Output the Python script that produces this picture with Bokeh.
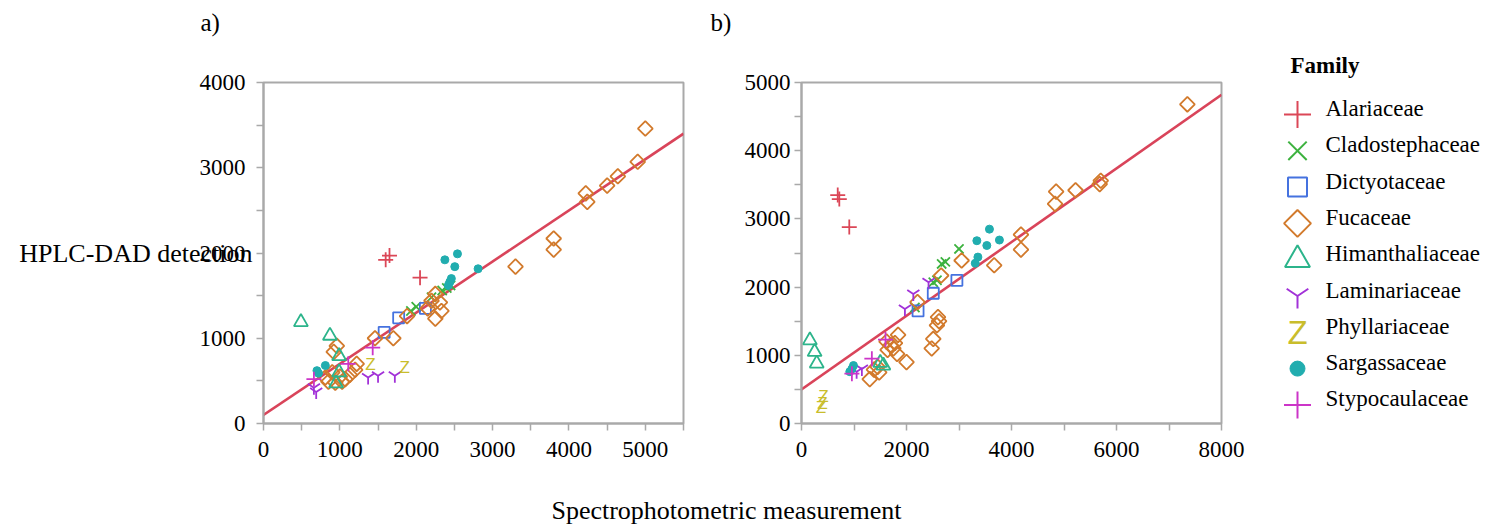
import math
from bokeh.plotting import figure
from bokeh.models import Range1d, FixedTicker, Label, Title
from bokeh.layouts import row, column
from bokeh.embed import file_html
from bokeh.resources import INLINE
from bokeh.core.properties import value

# ---------------- data ----------------
families = ["Alariaceae", "Cladostephaceae", "Dictyotaceae", "Fucaceae",
            "Himanthaliaceae", "Laminariaceae", "Phyllariaceae", "Sargassaceae",
            "Stypocaulaceae"]
colors = ["#db4757", "#3db23f", "#4572df", "#d27a2c", "#2cb48b",
          "#a232d8", "#c9bd2c", "#21adaf", "#cc35c8"]
markers = ["cross", "x", "square", "diamond", "triangle", "y", "Z", "circle", "cross"]
panel_tags = ["a)", "b)"]

# panel a)
a_alariaceae_x = [1600, 1650, 2050]
a_alariaceae_y = [1920, 1970, 1710]
a_cladostephaceae_x = [1930, 2000, 2200, 2340, 2400, 2450]
a_cladostephaceae_y = [1320, 1370, 1480, 1560, 1590, 1620]
a_dictyotaceae_x = [1580, 1770, 2120]
a_dictyotaceae_y = [1070, 1240, 1350]
a_fucaceae_x = [5000, 4900, 4640, 4500, 4220, 4240, 3800, 3800, 3300,
                2250, 2310, 2330, 2250, 2200, 2150, 1880, 1700, 1460,
                960, 920, 810, 850, 940, 1000, 1030, 1070, 1130, 1200, 1220, 900]
a_fucaceae_y = [3460, 3070, 2900, 2790, 2700, 2600, 2170, 2040, 1840,
                1520, 1420, 1320, 1230, 1440, 1350, 1260, 1000, 1000,
                910, 840, 540, 490, 480, 550, 490, 520, 570, 630, 700, 600]
a_himanthaliaceae_x = [490, 870, 990, 950, 990]
a_himanthaliaceae_y = [1190, 1030, 790, 470, 600]
a_laminariaceae_x = [1370, 1500, 1720, 660, 690]
a_laminariaceae_y = [540, 560, 560, 420, 370]
a_phyllariaceae_x = [1400, 1850]
a_phyllariaceae_y = [690, 660]
a_sargassaceae_x = [2375, 2540, 2505, 2810, 2460, 2440, 2420, 700, 810, 720]
a_sargassaceae_y = [1920, 1990, 1840, 1815, 1700, 1660, 1620, 620, 680, 590]
a_stypocaulaceae_x = [660, 1110, 1430]
a_stypocaulaceae_y = [520, 700, 890]
a_fit = [100, 0.6]  # intercept, slope

# panel b)
b_alariaceae_x = [690, 720, 910]
b_alariaceae_y = [3350, 3290, 2880]
b_cladostephaceae_x = [3000, 2740, 2670, 2580, 2510, 2160]
b_cladostephaceae_y = [2560, 2370, 2340, 2100, 2070, 1700]
b_dictyotaceae_x = [2960, 2510, 2220]
b_dictyotaceae_y = [2100, 1910, 1650]
b_fucaceae_x = [7350, 5700, 5680, 5220, 4850, 4830, 4180, 4180, 3670, 3050,
                2660, 2210, 2600, 2620, 2580, 2510, 2480, 1840, 1620, 1750,
                1820, 2000, 1700, 1640, 1780, 1300, 1480, 1380, 1450]
b_fucaceae_y = [4680, 3560, 3510, 3420, 3400, 3220, 2770, 2550, 2320, 2390,
                2170, 1780, 1560, 1500, 1440, 1240, 1100, 1300, 1200, 1100,
                1020, 900, 1150, 1080, 1180, 650, 750, 790, 830]
b_himanthaliaceae_x = [160, 250, 290, 1500, 1560]
b_himanthaliaceae_y = [1220, 1050, 880, 890, 850]
b_laminariaceae_x = [2130, 1970, 2420, 1150, 1050]
b_laminariaceae_y = [1900, 1680, 2070, 800, 760]
b_phyllariaceae_x = [420, 400, 370]
b_phyllariaceae_y = [390, 300, 240]
b_sargassaceae_x = [3580, 3340, 3530, 3770, 3360, 3310, 960, 990, 920]
b_sargassaceae_y = [2850, 2680, 2610, 2690, 2440, 2350, 800, 850, 760]
b_stypocaulaceae_x = [960, 1340, 1600]
b_stypocaulaceae_y = [730, 950, 1230]
b_fit = [500, 0.54]

a_xticks = [0, 1000, 2000, 3000, 4000, 5000]
a_xminor = [500, 1500, 2500, 3500, 4500, 5500]
a_yticks = [0, 1000, 2000, 3000, 4000]
a_yminor = [500, 1500, 2500, 3500]
b_xticks = [0, 2000, 4000, 6000, 8000]
b_xminor = [1000, 3000, 5000, 7000]
b_yticks = [0, 1000, 2000, 3000, 4000, 5000]
b_yminor = [500, 1500, 2500, 3500, 4500]

a_data = [(a_alariaceae_x, a_alariaceae_y), (a_cladostephaceae_x, a_cladostephaceae_y),
          (a_dictyotaceae_x, a_dictyotaceae_y), (a_fucaceae_x, a_fucaceae_y),
          (a_himanthaliaceae_x, a_himanthaliaceae_y), (a_laminariaceae_x, a_laminariaceae_y),
          (a_phyllariaceae_x, a_phyllariaceae_y), (a_sargassaceae_x, a_sargassaceae_y),
          (a_stypocaulaceae_x, a_stypocaulaceae_y)]
b_data = [(b_alariaceae_x, b_alariaceae_y), (b_cladostephaceae_x, b_cladostephaceae_y),
          (b_dictyotaceae_x, b_dictyotaceae_y), (b_fucaceae_x, b_fucaceae_y),
          (b_himanthaliaceae_x, b_himanthaliaceae_y), (b_laminariaceae_x, b_laminariaceae_y),
          (b_phyllariaceae_x, b_phyllariaceae_y), (b_sargassaceae_x, b_sargassaceae_y),
          (b_stypocaulaceae_x, b_stypocaulaceae_y)]

SERIF = "Liberation Serif"
AXIS_COL = "#a9a9a9"
FIT_COL = "#d9445a"
TOP_H = 40          # strip holding the panel tags
FRAME_TOP = 82      # page y of the plot frames
FRAME_H = 341


def draw_marker(p, kind, xs, ys, color):
    lw = 1.8
    if kind == "Z":
        p.text(x=xs, y=ys, text=["Z"] * len(xs), text_color=color,
               text_font=value("Liberation Sans"), text_font_size="17px",
               text_align="center", text_baseline="middle")
    elif kind == "diamond":
        p.scatter(xs, ys, marker="square", size=10.5, angle=math.pi / 4,
                  fill_color=None, line_color=color, line_width=lw)
    elif kind == "circle":
        p.scatter(xs, ys, marker="circle", size=8, fill_color=color,
                  line_color=color, line_width=1)
    else:
        size = {"cross": 15, "x": 13, "square": 11, "triangle": 14, "y": 14}[kind]
        p.scatter(xs, ys, marker=kind, size=size, fill_color=None,
                  line_color=color, line_width=lw)


def make_panel(data, fit, xr, yr, xt, xm, yt, ym, left, right, ystand):
    p = figure(frame_width=420, frame_height=FRAME_H, x_range=Range1d(*xr),
               y_range=Range1d(*yr), output_backend="svg", toolbar_location=None,
               min_border_left=left, min_border_right=right,
               min_border_top=FRAME_TOP - TOP_H, min_border_bottom=55)
    p.grid.visible = False
    p.outline_line_color = AXIS_COL
    p.outline_line_width = 2
    p.background_fill_color = "white"
    p.border_fill_color = "white"
    p.xaxis.ticker = FixedTicker(ticks=xt, minor_ticks=xm)
    p.yaxis.ticker = FixedTicker(ticks=yt, minor_ticks=ym)
    for ax in (p.xaxis, p.yaxis):
        ax.axis_line_color = AXIS_COL
        ax.axis_line_width = 2
        ax.major_tick_line_color = AXIS_COL
        ax.minor_tick_line_color = AXIS_COL
        ax.major_tick_line_width = 1.5
        ax.minor_tick_line_width = 1.5
        ax.major_tick_in = 0
        ax.major_tick_out = 7
        ax.minor_tick_in = 0
        ax.minor_tick_out = 7
        ax.major_label_text_font = SERIF
        ax.major_label_text_font_size = "23px"
        ax.major_label_text_color = "black"
    p.xaxis.major_label_standoff = 11
    p.yaxis.major_label_standoff = ystand
    x0, x1 = xr
    p.line([x0, x1], [fit[0] + fit[1] * x0, fit[0] + fit[1] * x1],
           line_color=FIT_COL, line_width=2.6)
    for (xs, ys), kind, col in zip(data, markers, colors):
        draw_marker(p, kind, xs, ys, col)
    return p


# strip on top with the panel tags (page-pixel coordinates)
p0 = figure(width=1490, height=TOP_H, x_range=Range1d(0, 1490), y_range=Range1d(TOP_H, 0),
            output_backend="svg", toolbar_location=None, min_border=0)
p0.axis.visible = False
p0.grid.visible = False
p0.outline_line_color = None
p0.text(x=[200, 710], y=[22, 22], text=panel_tags, text_font=value(SERIF),
        text_font_size="25px", text_align="left", text_baseline="middle",
        text_color="black")

p1 = make_panel(a_data, a_fit, (0, 5500), (0, 4000), a_xticks, a_xminor,
                a_yticks, a_yminor, 263, 17, 11)
p1.yaxis.axis_label = "HPLC-DAD detection"
p1.yaxis.axis_label_orientation = "horizontal"
p1.yaxis.axis_label_standoff = -56
p1.yaxis.axis_label_text_font = SERIF
p1.yaxis.axis_label_text_font_size = "26px"
p1.yaxis.axis_label_text_font_style = "normal"
p1.yaxis.axis_label_text_color = "black"

p2 = make_panel(b_data, b_fit, (0, 8000), (0, 5000), b_xticks, b_xminor,
                b_yticks, b_yminor, 101, 49, 4)

# legend panel (coordinates in page pixels; frame aligned with the panels)
p3 = figure(width=220, height=438, x_range=Range1d(1270, 1490),
            y_range=Range1d(FRAME_TOP + FRAME_H, FRAME_TOP),
            output_backend="svg", toolbar_location=None, min_border=0,
            min_border_top=FRAME_TOP - TOP_H, min_border_bottom=55)
p3.axis.visible = False
p3.grid.visible = False
p3.outline_line_color = None
p3.add_layout(Title(text="Family", align="left", offset=20, standoff=9,
                    text_font=SERIF, text_font_size="23px", text_font_style="bold",
                    text_color="black"), "above")
for i, (fam, kind, col) in enumerate(zip(families, markers, colors)):
    ty = 108 + 36.3 * i
    my = ty + 6
    mx = 1297
    if kind == "Z":
        p3.text(x=[mx], y=[my], text=["Z"], text_color=col,
                text_font=value("Liberation Sans"), text_font_size="33px",
                text_align="center", text_baseline="middle")
    elif kind == "diamond":
        p3.scatter([mx], [my], marker="square", size=19, angle=math.pi / 4,
                   fill_color=None, line_color=col, line_width=2)
    elif kind == "circle":
        p3.scatter([mx], [my], marker="circle", size=15, fill_color=col,
                   line_color=col)
    else:
        size = {"cross": 27, "x": 26, "square": 19, "triangle": 25, "y": 25}[kind]
        p3.scatter([mx], [my], marker=kind, size=size, fill_color=None,
                   line_color=col, line_width=2)
    p3.text(x=[1325], y=[ty], text=[fam], text_font=value(SERIF), text_font_size="23px",
            text_baseline="middle", text_align="left", text_color="black")

# common x label
p4 = figure(width=1490, height=46, x_range=Range1d(0, 1490), y_range=Range1d(0, 46),
            output_backend="svg", toolbar_location=None, min_border=0)
p4.axis.visible = False
p4.grid.visible = False
p4.outline_line_color = None
p4.add_layout(Label(x=726, y=14, text="Spectrophotometric measurement", text_font=SERIF,
                    text_font_size="26px", text_align="center", text_baseline="middle",
                    text_color="black"))

layout = column(p0, row(p1, p2, p3, spacing=0), p4, spacing=0)
open("out.html", "w").write(file_html(layout, INLINE))
